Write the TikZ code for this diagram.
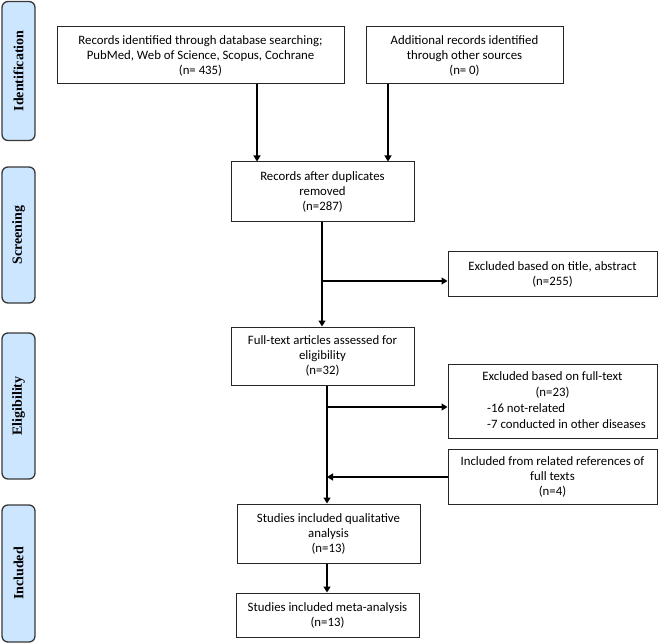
\documentclass[tikz,border=0pt]{standalone}
\usepackage{fontspec}
\setmainfont{Carlito}
\newfontfamily\stagefont{Liberation Serif}
\usetikzlibrary{arrows.meta}
\begin{document}
\begin{tikzpicture}[x=1pt,y=-1pt,
  stage/.style={draw=black!78,line width=1.3pt,fill=stagefill,rounded corners=6pt,minimum width=33pt,inner sep=0pt},
  stagetext/.style={rotate=90,font=\stagefont\bfseries\fontsize{14}{17}\selectfont},
  box/.style={draw=black!85,line width=1pt,align=center,inner sep=2pt,font=\fontsize{12.8}{15}\selectfont},
  txt/.style={inner sep=0pt,font=\fontsize{12.8}{15.5}\selectfont},
  arr/.style={line width=1.2pt,-{Triangle[length=6pt,width=7pt]}},
  ln/.style={line width=1.2pt}]
\definecolor{stagefill}{RGB}{204,230,255}
\useasboundingbox (0,0) rectangle (658,644);
% stage boxes
\node[stage,minimum height=139pt] (s1) at (18.5,71) {};
\node[stagetext] (t1) at (s1) {Identification};
\node[stage,minimum height=136pt] (s2) at (18.5,235) {};
\node[stagetext] (t2) at (s2) {Screening};
\node[stage,minimum height=146pt] (s3) at (18.5,406) {};
\node[stagetext] (t3) at (s3) {Eligibility};
\node[stage,minimum height=137pt] (s4) at (18.5,573.5) {};
\node[stagetext] (t4) at (s4) {Included};
% main boxes
\node[box,minimum width=287pt,minimum height=57pt] (b1) at (200.5,55.5) {Records identified through database searching;\\PubMed, Web of Science, Scopus, Cochrane\\(n= 435)};
\node[box,minimum width=197pt,minimum height=57pt] (b2) at (464.5,55.5) {Additional records identified\\through other sources\\(n= 0)};
\node[box,minimum width=183pt,minimum height=60pt] (b3) at (322.5,192) {Records after duplicates\\removed\\(n=287)};
\node[box,minimum width=209pt,minimum height=44pt] (e1) at (552.5,274) {Excluded based on title, abstract\\(n=255)};
\node[box,minimum width=183pt,minimum height=58pt] (b4) at (322.5,356) {Full-text articles assessed for\\eligibility\\(n=32)};
\node[box,minimum width=209pt,minimum height=74pt] (e2) at (552.5,401) {};
\node[txt,align=center] (e2a) at (552.5,385) {Excluded based on full-text\\(n=23)};
\node[txt,align=left,anchor=west] (e2b) at (487,416) {-16 not-related\\-7 conducted in other diseases};
\node[box,minimum width=209pt,minimum height=55pt] (inc) at (552.5,476.5) {Included from related references of\\full texts\\(n=4)};
\node[box,minimum width=183pt,minimum height=59pt] (b5) at (328.5,533.5) {Studies included qualitative\\analysis\\(n=13)};
\node[box,minimum width=183pt,minimum height=44pt] (b6) at (327.5,615) {Studies included meta-analysis\\(n=13)};
% connectors
\coordinate (x1) at (257,0);
\coordinate (x2) at (388,0);
\coordinate (x3) at (322,0);
\coordinate (x4) at (327,0);
\coordinate (y1) at (0,281);
\coordinate (y2) at (0,407);
\coordinate (y3) at (0,477);
\draw[arr] (b1.south -| x1) -- (b3.north -| x1);
\draw[arr] (b2.south -| x2) -- (b3.north -| x2);
\draw[arr] (b3.south -| x3) -- (b4.north -| x3);
\draw[arr] (x3 |- y1) -- (e1.west |- y1);
\draw[arr] (b4.south -| x4) -- (b5.north -| x4);
\draw[arr] (x4 |- y2) -- (e2.west |- y2);
\draw[arr] (inc.west |- y3) -- (x4 |- y3);
\draw[arr] (b5.south -| x4) -- (b6.north -| x4);
\end{tikzpicture}
\end{document}
